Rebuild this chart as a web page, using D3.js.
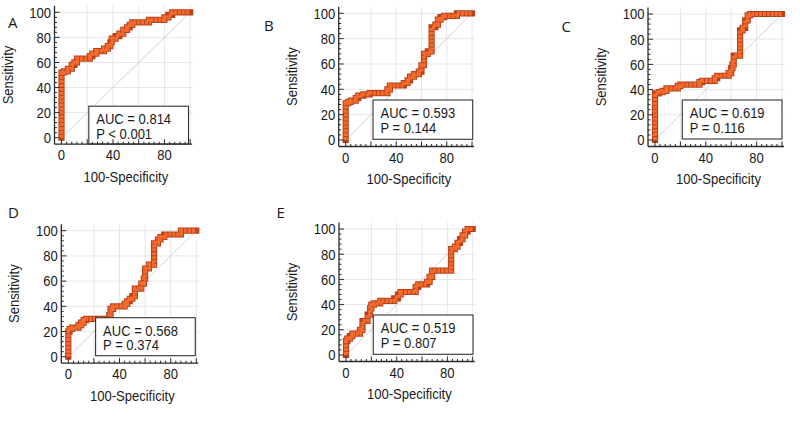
<!DOCTYPE html>
<html><head><meta charset="utf-8">
<script src="https://cdn.jsdelivr.net/npm/d3@7"></script>
<style>body{margin:0;background:#fff}svg{display:block}</style>
</head><body><svg id="chart" width="800" height="428"></svg>
<script>
// ---------- data ----------
const panelLetters = ["A", "B", "C", "D", "E"];
const aucLabels = ["AUC = 0.814", "AUC = 0.593", "AUC = 0.619", "AUC = 0.568", "AUC = 0.519"];
const pLabels = ["P < 0.001", "P = 0.144", "P = 0.116", "P = 0.374", "P = 0.807"];
const xTickLabels = [0, 40, 80];
const yTickLabels = [0, 20, 40, 60, 80, 100];
const xAxisTitle = "100-Specificity";
const yAxisTitle = "Sensitivity";

// ROC staircase vertices [100-Specificity, Sensitivity]
const rocA = [[0,0],[0,52],[2,52],[2,53],[5,53],[5,55],[8,55],[8,58],[10,58],[10,60],[12,60],[12,63],[22,63],[22,65],[24,65],[24,67],[27,67],[27,69],[33,69],[33,71],[36,71],[36,73],[38,73],[38,76],[39,76],[39,79],[42,79],[42,81],[45,81],[45,83],[48,83],[48,86],[51,86],[51,88],[53,88],[53,90],[55,90],[55,92],[68,92],[68,94],[80,94],[80,96],[83,96],[83,98],[86,98],[86,100],[100,100]];
const rocB = [[0,0],[0,29],[2,29],[2,30],[4,30],[4,31],[8,31],[8,33],[10,33],[10,35],[14,35],[14,36],[19,36],[19,37],[33,37],[33,40],[35,40],[35,43],[46,43],[46,45],[49,45],[49,47],[51,47],[51,50],[54,50],[54,52],[58,52],[58,54],[60,54],[60,59],[62,59],[62,68],[65,68],[65,70],[68,70],[68,89],[71,89],[71,91],[73,91],[73,95],[75,95],[75,97],[78,97],[78,98],[88,98],[88,100],[100,100]];
const rocC = [[0,0],[0,37],[3,37],[3,38],[6,38],[6,39],[9,39],[9,41],[18,41],[18,43],[20,43],[20,44],[35,44],[35,46],[37,46],[37,47],[47,47],[47,49],[49,49],[49,51],[58,51],[58,53],[60,53],[60,57],[61,57],[61,60],[62,60],[62,67],[67,67],[67,87],[69,87],[69,89],[71,89],[71,95],[73,95],[73,99],[75,99],[75,100],[100,100]];
const rocD = [[0,0],[0,20],[1,20],[1,22],[3,22],[3,23],[8,23],[8,25],[10,25],[10,27],[12,27],[12,29],[14,29],[14,30],[32,30],[32,33],[33,33],[33,38],[35,38],[35,40],[44,40],[44,42],[46,42],[46,44],[48,44],[48,46],[50,46],[50,48],[52,48],[52,54],[57,54],[57,58],[59,58],[59,62],[60,62],[60,70],[63,70],[63,73],[67,73],[67,90],[70,90],[70,93],[72,93],[72,95],[75,95],[75,97],[88,97],[88,100],[100,100]];
const rocE = [[0,0],[0,11],[1,11],[1,13],[3,13],[3,15],[5,15],[5,17],[11,17],[11,20],[13,20],[13,27],[17,27],[17,32],[19,32],[19,37],[20,37],[20,40],[22,40],[22,41],[27,41],[27,43],[38,43],[38,45],[41,45],[41,48],[43,48],[43,50],[55,50],[55,54],[57,54],[57,56],[64,56],[64,58],[66,58],[66,62],[68,62],[68,67],[83,67],[83,84],[86,84],[86,86],[88,86],[88,89],[90,89],[90,92],[92,92],[92,95],[94,95],[94,98],[96,98],[96,100],[100,100]];
const rocCurves = [rocA, rocB, rocC, rocD, rocE];

// ---------- layout ----------
const layout = [
  {x0: 61.5, yTop: 12.3, w: 128.7, h: 125.4, boxTop: -31.5, boxBottom: 6.3, letter: [8, 28.3]},
  {x0: 345.7, yTop: 13.3, w: 126.3, h: 126.7, boxTop: -40, boxBottom: -0.7, letter: [264, 30.7]},
  {x0: 655, yTop: 14, w: 127, h: 126, boxTop: -40, boxBottom: -1, letter: [561.5, 32.3]},
  {x0: 68.3, yTop: 230.7, w: 128, h: 126, boxTop: -39, boxBottom: -1, letter: [8, 217.5]},
  {x0: 346, yTop: 229, w: 126.7, h: 126, boxTop: -40, boxBottom: -0.7, letter: [276.5, 218]}
];

const svg = d3.select("#chart");
const FONT = "'Liberation Sans', Arial, sans-serif";

function label(g, x, y, txt, size, anchor, rot, sx) {
  return g.append("text")
    .attr("transform", `translate(${x},${y})` + (rot ? ` rotate(${rot})` : "") + ` scale(${sx || 0.87},1)`)
    .attr("font-family", FONT).attr("font-size", size).attr("fill", "#1a1a1a")
    .attr("text-anchor", anchor || "start").text(txt);
}

layout.forEach((L, i) => {
  const g = svg.append("g");
  const x = d3.scaleLinear().domain([0, 100]).range([L.x0, L.x0 + L.w]);
  const y = d3.scaleLinear().domain([0, 100]).range([L.yTop + L.h, L.yTop]);
  const axX = L.x0 - 7;            // y-axis line position
  const axY = L.yTop + L.h + 6.5;  // x-axis line position
  const topY = L.yTop - 6.5;
  const rightX = x(100) + 2;

  // grid
  const grid = d3.range(20, 101, 20);
  g.selectAll(".gv").data(grid).join("line")
    .attr("x1", d => x(d)).attr("x2", d => x(d)).attr("y1", topY).attr("y2", axY)
    .attr("stroke", "#e6e6e6").attr("stroke-width", 1);
  g.selectAll(".gh").data(grid).join("line")
    .attr("x1", axX).attr("x2", rightX + 1).attr("y1", d => y(d)).attr("y2", d => y(d))
    .attr("stroke", "#e6e6e6").attr("stroke-width", 1);

  // diagonal
  g.append("line").attr("x1", x(0)).attr("y1", y(0)).attr("x2", x(100)).attr("y2", y(100))
    .attr("stroke", "#cccccc").attr("stroke-width", 0.9);

  // curve
  const line = d3.line().x(d => x(d[0])).y(d => y(d[1]));
  const data = rocCurves[i];
  g.append("path").attr("d", line(data)).attr("fill", "none")
    .attr("stroke", "#b8401a").attr("stroke-width", 6.2)
    .attr("stroke-linejoin", "miter").attr("stroke-linecap", "square");
  g.append("path").attr("d", line(data)).attr("fill", "none")
    .attr("stroke", "#f36c2e").attr("stroke-width", 4.2)
    .attr("stroke-dasharray", "3 0.9")
    .attr("stroke-linejoin", "miter").attr("stroke-linecap", "butt");

  // AUC box
  const bx0 = L.x0 + 27.3, bx1 = L.x0 + 127;
  const by0 = y(0) + L.boxTop, by1 = y(0) + L.boxBottom;
  g.append("rect").attr("x", bx0).attr("y", by0).attr("width", bx1 - bx0).attr("height", by1 - by0)
    .attr("fill", "#fff").attr("stroke", "#333").attr("stroke-width", 1.1);
  label(g, bx0 + 7.5, by0 + 18, aucLabels[i], 14, "start", 0, 0.93);
  label(g, bx0 + 7.5, by0 + 32.5, pLabels[i], 14, "start", 0, 0.93);

  // axes lines
  g.append("line").attr("x1", axX).attr("x2", axX).attr("y1", topY).attr("y2", axY)
    .attr("stroke", "#2a2a2a").attr("stroke-width", 1.3);
  g.append("line").attr("x1", axX).attr("x2", rightX).attr("y1", axY).attr("y2", axY)
    .attr("stroke", "#2a2a2a").attr("stroke-width", 1.3);

  // ticks (inward)
  const minor = d3.range(0, 101, 4).filter(v => v % 20 !== 0);
  const major = d3.range(0, 101, 20);
  g.selectAll(".ymin").data(minor).join("line")
    .attr("x1", axX).attr("x2", axX + 2.5).attr("y1", d => y(d)).attr("y2", d => y(d))
    .attr("stroke", "#2a2a2a").attr("stroke-width", 1);
  g.selectAll(".ymaj").data(major).join("line")
    .attr("x1", axX).attr("x2", axX + 5).attr("y1", d => y(d)).attr("y2", d => y(d))
    .attr("stroke", "#2a2a2a").attr("stroke-width", 1);
  g.selectAll(".xmin").data(minor).join("line")
    .attr("x1", d => x(d)).attr("x2", d => x(d)).attr("y1", axY).attr("y2", axY - 2.5)
    .attr("stroke", "#2a2a2a").attr("stroke-width", 1);
  g.selectAll(".xmaj").data(major).join("line")
    .attr("x1", d => x(d)).attr("x2", d => x(d)).attr("y1", axY).attr("y2", axY - 5)
    .attr("stroke", "#2a2a2a").attr("stroke-width", 1);

  // tick labels
  yTickLabels.forEach(v => label(g, axX - 3.5, y(v) + 5.3, String(v), 15, "end"));
  xTickLabels.forEach(v => label(g, x(v), axY + 16, String(v), 15, "middle"));

  // titles
  label(g, (x(0) + x(100)) / 2, axY + 37.5, xAxisTitle, 15, "middle");
  label(g, axX - 42, (y(0) + y(100)) / 2, yAxisTitle, 15, "middle", -90);

  // panel letter
  g.append("text").attr("x", L.letter[0]).attr("y", L.letter[1])
    .attr("font-family", "'Open Sans', 'Noto Sans', sans-serif").attr("font-size", 15)
    .attr("fill", "#1a1a1a").text(panelLetters[i]);
});
</script>
</body></html>
